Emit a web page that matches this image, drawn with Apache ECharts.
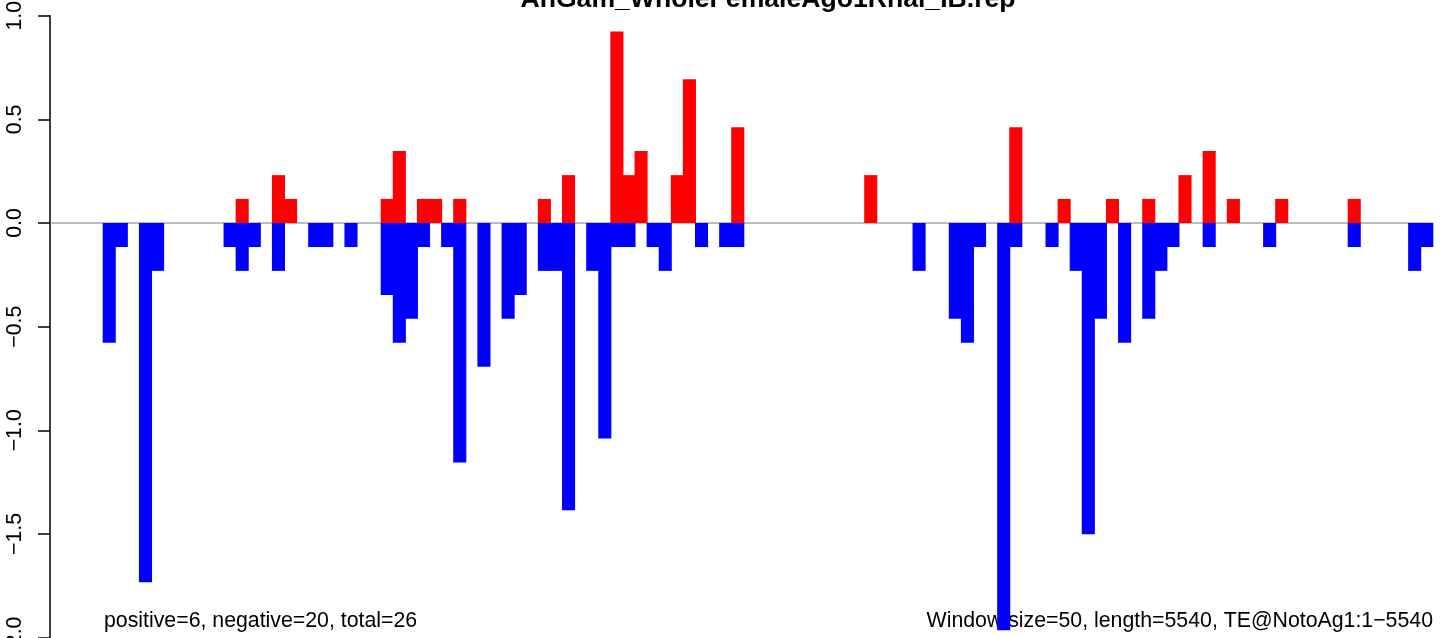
<!DOCTYPE html>
<html>
<head>
<meta charset="utf-8">
<script src="https://cdn.jsdelivr.net/npm/echarts@6/dist/echarts.min.js"></script>
<style>
  html, body { margin: 0; padding: 0; background: #fff; }
  #chart_container { width: 1444px; height: 638px; }
</style>
</head>
<body>
<div id="chart_container"></div>
<script>
"use strict";

// windows of 50 nt, 110 bins over 5540
const nBins = 110;

// bins with a positive (sense) value, and the values
const posBins = [11, 14, 15, 23, 24, 26, 27, 29, 36, 38, 42, 43, 44, 47, 48, 52, 63, 75, 79, 83, 86, 89, 91, 93, 97, 103];
const posVals = [0.116, 0.231, 0.116, 0.116, 0.347, 0.116, 0.116, 0.116, 0.116, 0.231, 0.924, 0.231, 0.347, 0.231, 0.693, 0.462, 0.231, 0.462, 0.116, 0.116, 0.116, 0.231, 0.347, 0.116, 0.116, 0.116];

// bins with a negative (antisense) value
const negBins = [0, 1, 3, 4, 10, 11, 12, 14, 17, 18, 20, 23, 24, 25, 26, 28, 29, 31, 33, 34, 36, 37, 38, 40, 41, 42, 43, 45, 46, 49, 51, 52, 67, 70, 71, 72, 74, 75, 78, 80, 81, 82, 84, 86, 87, 88, 91, 96, 103, 108, 109];
const negVals = [-0.578, -0.116, -1.733, -0.231, -0.116, -0.231, -0.116, -0.231, -0.116, -0.116, -0.116, -0.347, -0.578, -0.462, -0.116, -0.116, -1.155, -0.693, -0.462, -0.347, -0.231, -0.231, -1.386, -0.231, -1.040, -0.116, -0.116, -0.116, -0.231, -0.116, -0.116, -0.116, -0.231, -0.462, -0.578, -0.116, -1.964, -0.116, -0.116, -0.231, -1.502, -0.462, -0.578, -0.462, -0.231, -0.116, -0.116, -0.116, -0.116, -0.231, -0.116];

const yTicks = [-2.0, -1.5, -1.0, -0.5, 0.0, 0.5, 1.0];

const titleText = "AnGam_WholeFemaleAgo1Rnai_IB.rep";
const leftNote = "positive=6, negative=20, total=26";
const rightNote = "Window size=50, length=5540, TE@NotoAg1:1\u22125540";

const FONT = '"Liberation Sans", Arial, Helvetica, sans-serif';

let myChart;

let pageLoaded = () => {
    let chartDom = document.getElementById('chart_container');
    myChart = echarts.init(chartDom, null, { renderer: 'canvas' });

    // R-like barplot region: 4% padding on each side of [0, nBins]
    const xMin = -0.04 * nBins, xMax = nBins * 1.04;
    const gridLeft = 50, gridWidth = 1436;
    const binPx = gridWidth / (xMax - xMin);

    const posData = posBins.map((b, k) => [b + 0.5, posVals[k]]);
    const negData = negBins.map((b, k) => [b + 0.5, negVals[k]]);

    let fmt = (v) => (v < 0 ? '\u2212' : '') + Math.abs(v).toFixed(1);

    let optEchart = {
        animation: false,
        backgroundColor: '#ffffff',
        grid: {
            left: gridLeft, top: 15.7, width: gridWidth, height: 621.9,
            outerBoundsMode: 'none', containLabel: false
        },
        xAxis: {
            type: 'value', min: xMin, max: xMax,
            show: false
        },
        yAxis: {
            type: 'value',
            min: yTicks[0], max: yTicks[yTicks.length - 1], interval: 0.5,
            axisLine: { show: true, onZero: false, lineStyle: { color: '#000', width: 1.5 } },
            axisTick: { show: true, length: 12, lineStyle: { color: '#000', width: 1.5 } },
            splitLine: { show: false },
            axisLabel: {
                rotate: 90, margin: 24,
                color: '#000', fontSize: 21.3, fontFamily: FONT,
                formatter: fmt
            }
        },
        series: [
            {
                type: 'line', data: [[xMin, 0], [nBins, 0]],
                symbol: 'none', silent: true, z: 1,
                lineStyle: { color: '#7a7a7a', width: 1 }
            },
            {
                type: 'bar', data: posData, barWidth: binPx + 1, barGap: '-100%',
                itemStyle: { color: '#ff0000', borderWidth: 0 }, z: 2, silent: true
            },
            {
                type: 'bar', data: negData, barWidth: binPx + 1, barGap: '-100%',
                itemStyle: { color: '#0000ff', borderWidth: 0 }, z: 2, silent: true
            }
        ],
        graphic: [
            {
                type: 'text', x: 768, y: 0,
                style: { text: titleText, font: 'bold 26.6px ' + FONT, fill: '#000', align: 'center', verticalAlign: 'middle' }
            },
            {
                type: 'text', x: 104, y: 621.5,
                style: { text: leftNote, font: '21.3px ' + FONT, fill: '#000', align: 'left', verticalAlign: 'middle' }
            },
            {
                type: 'text', x: 1433, y: 621.5,
                style: { text: rightNote, font: '21.3px ' + FONT, fill: '#000', align: 'right', verticalAlign: 'middle' }
            }
        ]
    };

    optEchart && myChart.setOption(optEchart);
    console.log(`pageLoaded() complete`);
};

window.addEventListener('load', pageLoaded, false);
</script>
</body>
</html>
